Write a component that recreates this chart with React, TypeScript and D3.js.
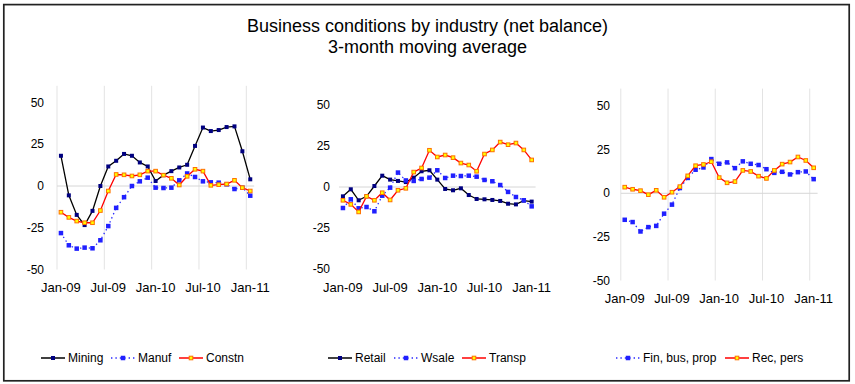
import * as d3 from "d3"

const months = [
  "Jan-09", "Feb-09", "Mar-09", "Apr-09", "May-09", "Jun-09", "Jul-09", "Aug-09", "Sep-09", "Oct-09", "Nov-09", "Dec-09",
  "Jan-10", "Feb-10", "Mar-10", "Apr-10", "May-10", "Jun-10", "Jul-10", "Aug-10", "Sep-10", "Oct-10", "Nov-10", "Dec-10",
  "Jan-11",
]
const tickLabels = ["Jan-09", "Jul-09", "Jan-10", "Jul-10", "Jan-11"]
const yTicks = [50, 25, 0, -25, -50]

const mining = [18.1, -5.6, -17.3, -23.4, -14.9, 0, 11.7, 15.1, 19.2, 18.1, 14.1, 11.7, 3.0, 6.5, 8.9, 11.1, 12.7, 24, 35, 32.9, 33.5, 35.3, 35.7, 20.8, 4]
const manuf = [-28.2, -35.5, -37.5, -36.9, -37.3, -32.5, -24, -13.1, -6.7, 0, 2.8, 5, -1, -1.2, -1, 3.4, 7.5, 5.4, 2.8, 2.2, 2, 1, -1.8, -1, -5.8]
const constn = [-15.7, -18.8, -21, -22, -22, -14.7, -3, 6.9, 6.7, 6, 6.7, 8.9, 8.9, 6.5, 4.6, 0.6, 5.8, 10, 8.9, 0.4, 0.8, 1.2, 3.4, -1, -3]

const retail = [-5.7, -1.4, -8.1, -5.7, 0.6, 6.9, 4.5, 3.7, 3, 5.7, 9.6, 10.2, 4.5, -1.2, -2, -0.8, -4.9, -7.3, -7.5, -7.9, -8.5, -10.2, -10.6, -8.3, -8.9]
const wsale = [-12.8, -7.5, -13, -12.2, -14.8, -5.3, -0.4, 8.8, 4, 3.7, 4.9, 5.7, 10.2, 5.5, 6.9, 6.7, 6.9, 6.3, 4.3, 3.5, 1.2, -3, -6.1, -8.1, -11.8]
const transp = [-8.1, -10.6, -15.2, -5.7, -8.1, -3.5, -7.9, -2, -0.8, 9.1, 11.6, 22.4, 18.3, 19.5, 17.9, 14.6, 13.4, 9.6, 20.1, 22.6, 27.4, 25.8, 26.8, 22.6, 16.5]

const finBus = [-15.2, -16.5, -21.9, -19.4, -18.7, -11.7, -6.5, 3, 8.8, 13.5, 14.8, 19.6, 16.9, 17.7, 14.4, 18.3, 16.9, 16.2, 13.8, 11.7, 12.3, 10.8, 12.1, 12.5, 8.1]
const recPers = [3.5, 2.3, 1.5, -0.8, 1.7, -2.3, 0.6, 3.8, 10, 15.8, 16.5, 18.1, 9, 6, 6.7, 13.1, 12.5, 9.8, 8.5, 13.1, 16.7, 17.9, 20.8, 18.8, 14.6]

type Style = "black" | "blue" | "red"

interface Series {
  name: string
  values: number[]
  style: Style
}

const FONT = "'Liberation Sans', Arial, sans-serif"

const styles = {
  black: { stroke: "#000000", dash: undefined, fill: "#000080", markStroke: "none", size: 4 },
  blue: { stroke: "#2a2aff", dash: "1.4,3", fill: "#2020ff", markStroke: "none", size: 4.5 },
  red: { stroke: "#ff0000", dash: undefined, fill: "#ffff00", markStroke: "#ff7000", size: 3.6 },
}

const panels = [
  {
    x0: 57, x1: 254.2, yTop: 85.8, yBottom: 269.5, labelX: 44, grid: true,
    series: [
      { name: "Mining", values: mining, style: "black" },
      { name: "Manuf", values: manuf, style: "blue" },
      { name: "Constn", values: constn, style: "red" },
    ] as Series[],
    legendX: [41, 111, 179],
  },
  {
    x0: 339, x1: 535.6, yTop: 88.6, yBottom: 269, labelX: 330, grid: false,
    series: [
      { name: "Retail", values: retail, style: "black" },
      { name: "Wsale", values: wsale, style: "blue" },
      { name: "Transp", values: transp, style: "red" },
    ] as Series[],
    legendX: [328, 394, 462],
  },
  {
    x0: 620.8, x1: 817.6, yTop: 88.6, yBottom: 280.5, labelX: 610, grid: true,
    series: [
      { name: "Fin, bus, prop", values: finBus, style: "blue" },
      { name: "Rec, pers", values: recPers, style: "red" },
    ] as Series[],
    legendX: [616, 725],
  },
]

const legendY = 358

function Marker({ x, y, style }: { x: number; y: number; style: Style }) {
  const s = styles[style]
  return (
    <rect
      x={x - s.size / 2}
      y={y - s.size / 2}
      width={s.size}
      height={s.size}
      fill={s.fill}
      stroke={s.markStroke}
      strokeWidth={1}
    />
  )
}

function Panel({ p }: { p: (typeof panels)[number] }) {
  const x = d3.scaleBand<string>().domain(months).range([p.x0, p.x1]).padding(0)
  const y = d3.scaleLinear().domain([-50, 60]).range([p.yBottom, p.yTop])
  const cx = (m: string) => (x(m) as number) + x.bandwidth() / 2

  const line = d3
    .line<number>()
    .x((_, i) => cx(months[i]))
    .y((d) => y(d))

  return (
    <g>
      {p.grid &&
        tickLabels.map((t) => (
          <line key={t} x1={x(t)} x2={x(t)} y1={y(60)} y2={y(-50)} stroke="#e3e3e3" strokeWidth={1} />
        ))}
      <line x1={p.x0} x2={p.x1} y1={y(0)} y2={y(0)} stroke="#d6d6d6" strokeWidth={1} />
      {yTicks.map((t) => (
        <text key={t} x={p.labelX} y={y(t)} dy="0.35em" textAnchor="end" fontSize={12} fill="#000">
          {t}
        </text>
      ))}
      {tickLabels.map((t) => (
        <text key={t} x={cx(t)} y={y(-50) + 18} dy="0.35em" textAnchor="middle" fontSize={13} fill="#000">
          {t}
        </text>
      ))}
      {p.series.map((s) => {
        const st = styles[s.style]
        return (
          <g key={s.name}>
            <path d={line(s.values) ?? ""} fill="none" stroke={st.stroke} strokeWidth={1.3} strokeDasharray={st.dash} />
            {s.values.map((v, i) => (
              <Marker key={i} x={cx(months[i])} y={y(v)} style={s.style} />
            ))}
          </g>
        )
      })}
      {p.series.map((s, i) => {
        const st = styles[s.style]
        const lx = p.legendX[i]
        return (
          <g key={"lg" + s.name}>
            <line x1={lx} x2={lx + 24} y1={legendY} y2={legendY} stroke={st.stroke} strokeWidth={1.5} strokeDasharray={st.dash} />
            <Marker x={lx + 12} y={legendY} style={s.style} />
            <text x={lx + 27} y={legendY} dy="0.35em" fontSize={12} fill="#000">
              {s.name}
            </text>
          </g>
        )
      })}
    </g>
  )
}

export default function App() {
  return (
    <svg
      width={855}
      height={384}
      style={{ position: "absolute", left: 0, top: 0, background: "#fff" }}
      fontFamily={FONT}
    >
      <rect x={0} y={0} width={855} height={384} fill="#fff" />
      <rect x={3.8} y={4.6} width={845.4} height={376.2} fill="none" stroke="#222" strokeWidth={1.7} />
      <text x={427.5} y={31.7} textAnchor="middle" fontSize={18} fill="#000">
        Business conditions by industry (net balance)
      </text>
      <text x={427.5} y={53.3} textAnchor="middle" fontSize={18} fill="#000">
        3-month moving average
      </text>
      {panels.map((p, i) => (
        <Panel key={i} p={p} />
      ))}
    </svg>
  )
}
